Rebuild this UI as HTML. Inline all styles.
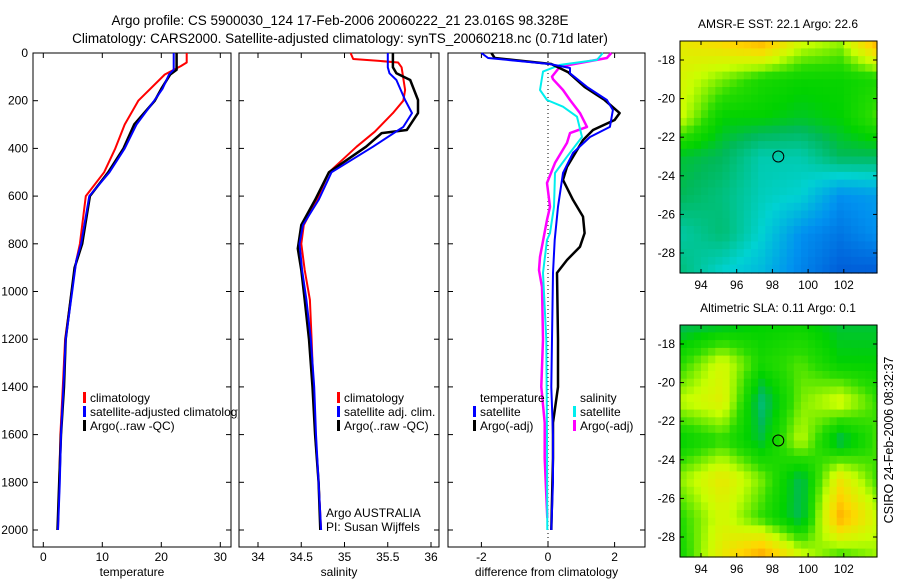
<!DOCTYPE html>
<html><head><meta charset="utf-8">
<style>
html,body{margin:0;padding:0;background:#fff;}
svg{display:block;font-family:"Liberation Sans",sans-serif;}
text{fill:#000;}
</style></head>
<body>
<svg id="fig" width="900" height="580" viewBox="0 0 900 580" xmlns="http://www.w3.org/2000/svg">
<text x="340" y="25" font-size="13.5" text-anchor="middle">Argo profile: CS 5900030_124 17-Feb-2006 20060222_21 23.016S 98.328E</text>
<text x="340" y="43" font-size="13.5" text-anchor="middle">Climatology: CARS2000. Satellite-adjusted climatology: synTS_20060218.nc (0.71d later)</text>
<g id="plots"></g>
<text transform="translate(893,440) rotate(-90)" font-size="12.5" text-anchor="middle">CSIRO 24-Feb-2006 08:32:37</text>
</svg>
<script>
// ---------- DATA ----------
const depthTicks = [0,200,400,600,800,1000,1200,1400,1600,1800,2000];
const tempTicks = [0,10,20,30];
const salTicks = [34,34.5,35,35.5,36];
const diffTicks = [-2,0,2];
// temperature profiles [depth, value]
const tempClimDepth = [0,40,55,90,200,300,400,500,600,800,870,1000,1200,1400,1600,1800,2000];
const tempClimVal   = [24.3,24.3,23.3,20.6,16.1,13.8,12.2,10.3,7.2,6.2,5.6,4.8,3.7,3.3,2.9,2.7,2.5];
const tempSatDepth  = [0,70,90,150,200,300,400,500,600,800,870,1000,1200,1400,1600,1800,2000];
const tempSatVal    = [22.1,22.1,21.3,20.2,18.8,15.8,13.8,11.2,7.8,6.4,5.6,4.9,3.8,3.4,3.0,2.8,2.5];
const tempArgoDepth = [0,70,90,150,200,300,400,500,600,800,900,1000,1200,1400,1600,1800,2000];
const tempArgoVal   = [22.6,22.6,21.5,20.0,18.9,15.4,13.6,11.0,7.9,6.6,5.3,4.8,3.8,3.5,3.0,2.7,2.4];
// salinity
const salClimDepth = [0,25,33,40,60,155,200,252,330,393,500,616,721,800,910,1035,1200,1400,1600,1800,2000];
const salClimVal   = [35.07,35.1,35.4,35.62,35.66,35.7,35.68,35.56,35.35,35.14,34.82,34.68,34.53,34.5,34.54,34.6,34.62,34.64,34.66,34.7,34.73];
const salSatDepth  = [0,60,85,113,197,252,310,393,500,616,721,800,910,1035,1200,1400,1600,1800,2000];
const salSatVal    = [35.5,35.5,35.52,35.6,35.7,35.78,35.68,35.33,34.85,34.7,34.52,34.48,34.51,34.56,34.61,34.65,34.67,34.7,34.73];
const salArgoDepth = [0,60,85,113,197,252,323,336,393,500,616,721,820,910,1035,1200,1400,1600,1800,2000];
const salArgoVal   = [35.56,35.56,35.6,35.76,35.85,35.85,35.72,35.43,35.25,34.82,34.66,34.5,34.46,34.5,34.54,34.59,34.63,34.66,34.7,34.72];
// differences
const dTSatDepth = [0,21,46,63,85,142,197,239,310,352,419,503,645,784,922,1200,1400,1600,1800,2000];
const dTSatVal   = [-2.0,-1.8,0.05,0.66,0.66,1.17,1.77,1.95,1.86,1.26,0.75,0.45,0.3,0.2,0.15,0.12,0.1,0.15,0.15,0.1];
const dTArgoDepth = [0,21,46,80,142,197,252,281,323,365,477,532,616,686,755,812,868,922,1200,1400,1550,1700,2000];
const dTArgoVal   = [-1.7,-1.6,0.1,0.6,1.1,1.7,2.15,2.0,1.35,1.05,0.57,0.45,0.75,1.05,1.1,0.96,0.57,0.27,0.3,0.3,0.15,0.15,0.1];
const dSSatDepth = [0,29,50,78,155,197,225,267,352,435,503,645,755,784,922,1200,1600,2000];
const dSSatVal   = [1.65,1.47,0.36,-0.15,-0.24,-0.03,0.45,0.87,1.02,0.57,0.21,0.18,0.06,-0.03,-0.15,-0.05,-0.03,-0.02];
const dSArgoDepth = [0,21,57,99,110,155,197,252,310,336,377,461,545,645,700,855,910,981,1200,1400,1550,1700,1950];
const dSArgoVal   = [1.9,1.77,0.36,0.12,0.15,0.45,0.66,0.96,1.17,0.66,0.57,0.21,-0.03,0.06,-0.03,-0.24,-0.27,-0.18,-0.15,-0.2,-0.1,-0.1,-0.02];
// maps: coarse grids, rows lat -17..-29 (step 2), cols lon 93..104 (step 2.2); colormap index 0..1
const mapLats = [-17,-19,-21,-23,-25,-27,-29];
const mapLons = [93,95.2,97.4,99.6,101.8,104];
const sstGrid = [
 [0.74,0.78,0.84,0.70,0.66,0.86],
 [0.70,0.64,0.58,0.56,0.56,0.58],
 [0.68,0.55,0.55,0.53,0.55,0.62],
 [0.52,0.50,0.43,0.43,0.50,0.50],
 [0.50,0.47,0.42,0.40,0.30,0.32],
 [0.44,0.48,0.40,0.30,0.26,0.30],
 [0.47,0.40,0.36,0.28,0.22,0.22]];
const slaGrid = [
 [0.50,0.52,0.55,0.56,0.52,0.52],
 [0.60,0.70,0.58,0.62,0.55,0.55],
 [0.68,0.72,0.48,0.64,0.70,0.60],
 [0.55,0.60,0.52,0.68,0.50,0.62],
 [0.66,0.74,0.64,0.50,0.74,0.60],
 [0.60,0.70,0.60,0.50,0.84,0.68],
 [0.58,0.74,0.86,0.70,0.60,0.66]];
const argoLon = 98.33, argoLat = -23.0;

// ---------- helpers ----------
const NS='http://www.w3.org/2000/svg';
const root=document.getElementById('plots');
function mk(tag,attrs,parent){const e=document.createElementNS(NS,tag);for(const k in attrs)e.setAttribute(k,attrs[k]);(parent||root).appendChild(e);return e;}
function txt(s,x,y,size,anchor,parent){const t=mk('text',{x:x,y:y,'font-size':size,'text-anchor':anchor||'start'},parent);t.textContent=s;return t;}

const Y0=53, Y1=547, DMAX=(Y1-Y0)/0.2385;
const yD=d=>Y0+d*(Y1-Y0)/DMAX;
const panels=[
 {name:'temperature',x0:33,x1:231,xmin:(33-43.3)/5.9,xmax:(231-43.3)/5.9,ticks:tempTicks,labelDepth:true,xlabel:'temperature'},
 {name:'salinity',x0:239,x1:439,xmin:34+(239-258)/86.5,xmax:34+(439-258)/86.5,ticks:salTicks,labelDepth:false,xlabel:'salinity'},
 {name:'difference',x0:448,x1:645,xmin:(448-548)/33.3,xmax:(645-548)/33.3,ticks:diffTicks,labelDepth:false,xlabel:'difference from climatology'}];
panels.forEach(p=>{p.xs=v=>p.x0+(v-p.xmin)/(p.xmax-p.xmin)*(p.x1-p.x0);});

function drawAxes(p){
 const g=mk('g',{});
 
 
 mk('rect',{x:p.x0,y:Y0,width:p.x1-p.x0,height:Y1-Y0,fill:'none',stroke:'#000','stroke-width':1},g);
 p.ticks.forEach(t=>{const x=p.xs(t);
  mk('line',{x1:x,x2:x,y1:Y1,y2:Y1-5,stroke:'#000'},g);
  mk('line',{x1:x,x2:x,y1:Y0,y2:Y0+5,stroke:'#000'},g);
  const l=txt(String(t),x,561,12,'middle',g);
  
  });
 depthTicks.forEach(d=>{const y=yD(d);
  mk('line',{x1:p.x0,x2:p.x0+5,y1:y,y2:y,stroke:'#000'},g);
  mk('line',{x1:p.x1,x2:p.x1-5,y1:y,y2:y,stroke:'#000'},g);
  if(p.labelDepth){const l=txt(String(d),28,y+4,12,'end',g);
   
   }});
 const xl=txt(p.xlabel,(p.x0+p.x1)/2,576,12,'middle',g);
 
 
}
function drawLine(p,depths,vals,color,w,name){
 let pts=depths.map((d,i)=>p.xs(vals[i]).toFixed(1)+','+yD(d).toFixed(1)).join(' ');
 const l=mk('polyline',{points:pts,fill:'none',stroke:color,'stroke-width':w,'stroke-linejoin':'round'});
 
 
}
panels.forEach(drawAxes);
// zero dotted line
const zl=mk('line',{x1:panels[2].xs(0),x2:panels[2].xs(0),y1:Y0,y2:Y1,stroke:'#000','stroke-dasharray':'1,3'});



drawLine(panels[0],tempClimDepth,tempClimVal,'#f00',2,'temp-climatology-line');
drawLine(panels[0],tempArgoDepth,tempArgoVal,'#000',2.5,'temp-argo-line');
drawLine(panels[0],tempSatDepth,tempSatVal,'#00f',2,'temp-satellite-line');
drawLine(panels[1],salClimDepth,salClimVal,'#f00',2,'sal-climatology-line');
drawLine(panels[1],salArgoDepth,salArgoVal,'#000',2.5,'sal-argo-line');
drawLine(panels[1],salSatDepth,salSatVal,'#00f',2,'sal-satellite-line');
drawLine(panels[2],dSArgoDepth,dSArgoVal,'#f0f',2.5,'diff-sal-argo-line');
drawLine(panels[2],dSSatDepth,dSSatVal,'#0ee',2,'diff-sal-satellite-line');
drawLine(panels[2],dTArgoDepth,dTArgoVal,'#000',2.5,'diff-temp-argo-line');
drawLine(panels[2],dTSatDepth,dTSatVal,'#00f',2,'diff-temp-satellite-line');

// legends
const cp=mk('clipPath',{id:'clip1'});
mk('rect',{x:0,y:0,width:238,height:580},cp);
function legend(x,y,items,name,clip){
 const g=mk('g',clip?{'clip-path':'url(#clip1)'}:{});
 
 
 items.forEach((it,i)=>{const yy=y+i*14;
  if(it[1])mk('rect',{x:x,y:yy-10,width:3,height:11,fill:it[1]},g);
  txt(it[0],x+7,yy,12,'start',g);});
}
legend(83,402,[['climatology','#f00'],['satellite-adjusted climatology','#00f'],['Argo(..raw -QC)','#000']],'temperature-legend',true);
legend(337,402,[['climatology','#f00'],['satellite adj. clim.','#00f'],['Argo(..raw -QC)','#000']],'salinity-legend');
legend(473,402,[['temperature',null],['satellite','#00f'],['Argo(-adj)','#000']],'diff-temp-legend');
legend(573,402,[['salinity',null],['satellite','#0ee'],['Argo(-adj)','#f0f']],'diff-sal-legend');
const ag=mk('g',{});


txt('Argo AUSTRALIA',326,517,12,'start',ag);
txt('PI: Susan Wijffels',326,531,12,'start',ag);

// ---------- maps ----------
const cmapStops=[[0.2,[0,80,210]],[0.3,[0,145,240]],[0.4,[0,210,210]],[0.5,[0,185,90]],[0.55,[0,210,0]],[0.6,[40,220,0]],[0.68,[200,255,0]],[0.78,[255,215,0]],[0.9,[255,140,0]]];
function cmap(v){
 if(v<=cmapStops[0][0])return cmapStops[0][1];
 for(let i=1;i<cmapStops.length;i++){if(v<=cmapStops[i][0]){const a=cmapStops[i-1],b=cmapStops[i],t=(v-a[0])/(b[0]-a[0]);return a[1].map((c,k)=>Math.round(c+(b[1][k]-c)*t));}}
 return cmapStops[cmapStops.length-1][1];
}
function interp(grid,lat,lon){
 let r=(-17-lat)/2, c=(lon-93)/2.2;
 r=Math.max(0,Math.min(5.999,r)); c=Math.max(0,Math.min(4.999,c));
 const r0=Math.floor(r),c0=Math.floor(c),fr=r-r0,fc=c-c0;
 return grid[r0][c0]*(1-fr)*(1-fc)+grid[r0][c0+1]*(1-fr)*fc+grid[r0+1][c0]*fr*(1-fc)+grid[r0+1][c0+1]*fr*fc;
}
function drawMap(grid,top,title,name){
 const x0=680,x1=877,y1=top+232;
 const lx=lon=>701+(lon-94)*17.85;
 const ly=lat=>top+19+(-18-lat)*19.3;
 const g=mk('g',{});
 
 
 const step=0.4;
 for(let lat=-17;lat>-29.1;lat-=step){
  for(let lon=92.8;lon<103.9;lon+=step){
   const v=interp(grid,lat-step/2,lon+step/2);
   const c=cmap(v);
   const xa=Math.max(x0,lx(lon)),xb=Math.min(x1,lx(lon+step));
   const ya=Math.max(top,ly(lat)),yb=Math.min(y1,ly(lat-step));
   if(xb<=xa||yb<=ya)continue;
   const cell=mk('rect',{x:xa.toFixed(1),y:ya.toFixed(1),width:(xb-xa+0.6).toFixed(1),height:(yb-ya+0.6).toFixed(1),fill:'rgb('+c.join(',')+')'},g);
   
   
  }}
 mk('rect',{x:x0,y:top,width:x1-x0,height:y1-top,fill:'none',stroke:'#000'},g);
 [94,96,98,100,102].forEach(l=>{const x=lx(l);
  mk('line',{x1:x,x2:x,y1:top,y2:top+4,stroke:'#000'},g);
  mk('line',{x1:x,x2:x,y1:y1,y2:y1-4,stroke:'#000'},g);
  txt(String(l),x,y1+16,12,'middle',g);});
 [-18,-20,-22,-24,-26,-28].forEach(l=>{const y=ly(l);
  mk('line',{x1:x0,x2:x0+4,y1:y,y2:y,stroke:'#000'},g);
  mk('line',{x1:x1,x2:x1-4,y1:y,y2:y,stroke:'#000'},g);
  txt(String(l),675,y+4,12,'end',g);});
 const c=mk('circle',{cx:lx(argoLon),cy:ly(argoLat),r:5.5,fill:'none',stroke:'#000'},g);
 
 
 const t=txt(title,778,top-13,12,'middle',g);
 
 
}
drawMap(sstGrid,41,'AMSR-E SST: 22.1 Argo: 22.6','sst-map');
drawMap(slaGrid,325,'Altimetric SLA: 0.11 Argo: 0.1','sla-map');
</script>
</body></html>
